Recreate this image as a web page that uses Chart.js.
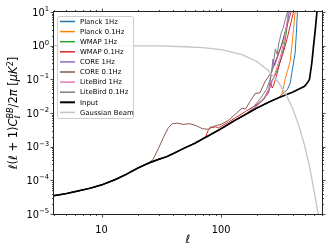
<!DOCTYPE html>
<html>
<head>
<meta charset="utf-8">
<script src="https://cdn.jsdelivr.net/npm/chart.js@4"></script>
<style>
  body { margin: 0; background: #fff; }
  #wrap { width: 333px; height: 250px; position: relative; }
</style>
</head>
<body>
<div id="wrap"><canvas id="chart"></canvas></div>
<script>
// ===== DATA =====
const labels = ["Planck 1Hz", "Planck 0.1Hz", "WMAP 1Hz", "WMAP 0.1Hz", "CORE 1Hz",
  "CORE 0.1Hz", "LiteBird 1Hz", "LiteBird 0.1Hz", "Input", "Gaussian Beam"];
const colors = ["#1f77b4", "#ff7f0e", "#2ca02c", "#d62728", "#9467bd",
  "#8c564b", "#e377c2", "#7f7f7f", "#000000", "#c4c4c4"];

// input spectrum
const ellInput = [4, 5, 6, 8, 10, 13, 16, 20, 25, 30, 35, 40, 50, 60, 70, 80, 100, 130, 160, 200,
  250, 300, 400, 500, 530, 550, 575, 595, 615, 635, 660];
const input = [3.5e-5, 4.0e-5, 4.6e-5, 5.8e-5, 7.3e-5, 1.05e-4, 1.5e-4, 2.3e-4, 3.3e-4, 4.2e-4, 5.0e-4,
  6.3e-4, 9.3e-4, 1.25e-3, 1.7e-3, 2.2e-3, 3.4e-3, 6.0e-3, 9.0e-3, 1.4e-2,
  2.1e-2, 2.8e-2, 4.2e-2, 6.2e-2, 8.0e-2, 0.1, 0.3, 1.0, 3, 10, 40];

// recovered spectra: they sit on the input at low ell, then break away
const planck1Ell = [330, 360, 380, 400, 417, 426, 436, 460];
const planck1 = [0.038, 0.05, 0.08, 0.25, 0.6, 2, 10, 40];
const planck01Ell = [323, 344, 360, 379, 392, 404, 417, 440];
const planck01 = [0.036, 0.1, 0.18, 0.34, 1.0, 3, 10, 40];
const wmap1Ell = [180, 200, 230, 250, 265, 280, 300, 320, 340, 355, 367, 385];
const wmap1 = [1.2e-2, 1.7e-2, 2.6e-2, 4.5e-2, 0.09, 0.12, 0.22, 0.45, 1.1, 3, 10, 40];
const wmap01Ell = [74, 78, 82, 86, 90, 95, 100, 115, 130, 160, 200, 230, 250, 262, 268, 275, 290,
  310, 335, 360, 380, 404, 420];
const wmap01 = [1.9e-3, 3.0e-3, 3.9e-3, 3.7e-3, 3.9e-3, 3.6e-3, 4.0e-3, 5.3e-3, 7e-3, 1.1e-2, 1.8e-2,
  2.8e-2, 4e-2, 8e-2, 5.5e-2, 6.5e-2, 0.12, 0.3, 0.7, 1.8, 4, 10, 30];
const core1Ell = [200, 230, 250, 262, 272, 280, 290, 305, 320, 340, 360, 372, 390];
const core1 = [1.6e-2, 2.8e-2, 5e-2, 0.12, 0.4, 0.25, 0.35, 0.6, 1.0, 2.2, 5, 10, 30];
const core01Ell = [27, 30, 33, 36, 39, 43, 48, 55, 62, 70, 78, 90, 100, 115, 135, 150, 160, 175,
  193, 212, 233, 266, 290, 320, 350, 385, 410];
const core01 = [4.2e-4, 9e-4, 1.9e-3, 3.5e-3, 4.8e-3, 5e-3, 4.6e-3, 4.8e-3, 4.2e-3, 3.4e-3, 3.3e-3,
  4.2e-3, 4.6e-3, 6e-3, 1.0e-2, 1.4e-2, 1.3e-2, 2.2e-2, 3.8e-2, 4e-2, 8.5e-2, 0.17, 0.4, 1.0, 3, 10, 30];
const lite1Ell = [200, 240, 270, 290, 310, 330, 350, 365, 380];
const lite1 = [1.6e-2, 3.5e-2, 0.09, 0.2, 0.4, 1.0, 3, 10, 30];
const lite01Ell = [180, 210, 240, 255, 265, 275, 285, 295, 305, 320, 330, 345, 360, 375];
const lite01 = [1.3e-2, 2.5e-2, 5e-2, 0.09, 0.16, 0.3, 0.8, 0.55, 1.2, 2.5, 3.2, 6, 10, 30];

// gaussian beam
const beamEll = [4, 10, 20, 30, 50, 70, 100, 150, 200, 250, 300, 350, 400, 450, 500, 550, 600, 650, 700];
const beam = [1.0, 1.0, 0.99, 0.98, 0.93, 0.87, 0.76, 0.54, 0.34, 0.18, 0.085, 0.035, 0.013,
  0.004, 1.1e-3, 2.6e-4, 5e-5, 1e-5, 1.6e-6];

// axis ticks
const xMajor = [10, 100];
const xMinor = [4, 5, 6, 7, 8, 9, 20, 30, 40, 50, 60, 70, 80, 90, 200, 300, 400, 500, 600, 700];
const yMajor = [1e-5, 1e-4, 1e-3, 1e-2, 1e-1, 1, 10];

// ===== HELPERS =====
const FONT = '"DejaVu Sans", sans-serif';
const TICK_SIZE = 9.8;
const TITLE_SIZE = 11.5;

function pts(ells, vals) {
  return ells.map((l, i) => ({ x: l, y: vals[i] }));
}
// input up to where the series leaves it, then the series' own points
function withBase(ells, vals) {
  const start = ells[0];
  const base = ellInput.map((l, i) => ({ x: l, y: input[i] })).filter(p => p.x < start);
  return base.concat(pts(ells, vals));
}

const seriesData = [
  withBase(planck1Ell, planck1),
  withBase(planck01Ell, planck01),
  withBase(wmap1Ell, wmap1),
  withBase(wmap01Ell, wmap01),
  withBase(core1Ell, core1),
  withBase(core01Ell, core01),
  withBase(lite1Ell, lite1),
  withBase(lite01Ell, lite01),
  pts(ellInput, input),
  pts(beamEll, beam)
];

const datasets = seriesData.map((d, i) => ({
  label: labels[i],
  data: d,
  borderColor: colors[i],
  borderWidth: i === 8 ? 1.7 : (i === 9 ? 1.3 : 1),
  pointRadius: 0,
  tension: 0,
  order: 10 - i
}));

// ===== PLUGINS =====
function seg(ctx, x1, y1, x2, y2) {
  ctx.beginPath(); ctx.moveTo(x1, y1); ctx.lineTo(x2, y2); ctx.stroke();
}

// "10" with a raised exponent, right-aligned at x
function drawPow(ctx, e, x, y) {
  ctx.font = TICK_SIZE + "px " + FONT;
  const wBase = ctx.measureText("10").width;
  const exp = e < 0 ? "\u2212" + (-e) : String(e);
  ctx.font = (TICK_SIZE * 0.7) + "px " + FONT;
  const wExp = ctx.measureText(exp).width;
  ctx.textAlign = "left";
  ctx.textBaseline = "alphabetic";
  ctx.font = TICK_SIZE + "px " + FONT;
  ctx.fillText("10", x - wExp - wBase, y + 3.5);
  ctx.font = (TICK_SIZE * 0.7) + "px " + FONT;
  ctx.fillText(exp, x - wExp, y - 1);
}

const legendBox = {
  id: "legendBox",
  afterDatasetsDraw(chart) {
    const ctx = chart.ctx;
    ctx.save();
    const x0 = 57, y0 = 16, w = 76, h = 102;
    ctx.fillStyle = "rgba(255,255,255,0.85)";
    ctx.strokeStyle = "#cccccc";
    ctx.lineWidth = 1;
    ctx.beginPath();
    ctx.roundRect(x0 + 0.5, y0 + 0.5, w, h, 2);
    ctx.fill(); ctx.stroke();
    ctx.font = "6.9px " + FONT;
    ctx.textBaseline = "middle";
    ctx.fillStyle = "#000";
    labels.forEach((lab, i) => {
      const y = 21.5 + i * 10.1;
      ctx.strokeStyle = colors[i];
      ctx.lineWidth = i === 8 ? 2 : 1.5;
      seg(ctx, 60, y, 75, y);
      ctx.fillText(lab, 80, y + 0.5);
    });
    ctx.restore();
  }
};

const frameAndTitles = {
  id: "frameAndTitles",
  afterDraw(chart) {
    const ctx = chart.ctx;
    const { left, right, top, bottom } = chart.chartArea;
    const xs = chart.scales.x, ys = chart.scales.y;
    ctx.save();
    ctx.strokeStyle = "#222";
    ctx.lineWidth = 1;
    ctx.strokeRect(left - 0.5, top - 0.5, right - left + 1, bottom - top + 1);

    // ticks on all four sides, pointing out
    ctx.lineWidth = 0.8;
    const xt = (v, len) => {
      const px = Math.round(xs.getPixelForValue(v)) + 0.5;
      seg(ctx, px, bottom, px, bottom + len);
      seg(ctx, px, top, px, top - len);
    };
    const yt = (v, len) => {
      const py = Math.round(ys.getPixelForValue(v)) + 0.5;
      seg(ctx, left, py, left - len, py);
      seg(ctx, right, py, right + len, py);
    };
    xMajor.forEach(v => xt(v, 3.5));
    xMinor.forEach(v => { if (v <= xs.max) xt(v, 2); });
    yMajor.forEach(v => yt(v, 3.5));
    for (let e = -5; e < 1; e++) {
      for (let k = 2; k < 10; k++) yt(k * Math.pow(10, e), 2);
    }

    // y tick labels
    ctx.fillStyle = "#000";
    yMajor.forEach(v => drawPow(ctx, Math.round(Math.log10(v)), left - 5, ys.getPixelForValue(v)));

    // x title
    ctx.font = "italic " + TITLE_SIZE + "px " + FONT;
    ctx.textAlign = "center";
    ctx.textBaseline = "alphabetic";
    ctx.fillText("\u2113", (left + right) / 2, 243);

    // y title, rotated, with sub/superscripts
    const F = TITLE_SIZE;
    const parts = [
      { t: "\u2113", it: true }, { t: "(" }, { t: "\u2113", it: true }, { t: " + 1)" },
      { t: "C", it: true },
      { t: "\u2113", it: true, s: 0.7, dy: 2.5, hold: true },
      { t: "BB", it: true, s: 0.7, dy: -4.5 },
      { t: "/2" }, { t: "\u03c0", it: true }, { t: " [" }, { t: "\u03bcK", it: true },
      { t: "2", s: 0.7, dy: -4.5 }, { t: "]" }
    ];
    let x = 0;
    const items = parts.map(p => {
      const font = (p.it ? "italic " : "") + (F * (p.s || 1)) + "px " + FONT;
      ctx.font = font;
      const w = ctx.measureText(p.t).width;
      const it = { t: p.t, font, x, dy: p.dy || 0 };
      if (!p.hold) x += w;
      return it;
    });
    ctx.translate(13, (top + bottom) / 2);
    ctx.rotate(-Math.PI / 2);
    ctx.textAlign = "left";
    items.forEach(it => {
      ctx.font = it.font;
      ctx.fillText(it.t, it.x - x / 2, 4 + it.dy);
    });
    ctx.restore();
  }
};

// ===== CHART =====
new Chart(document.getElementById("chart"), {
  type: "line",
  data: { datasets },
  options: {
    responsive: true,
    maintainAspectRatio: false,
    animation: false,
    layout: { padding: { left: 0, right: 11, top: 12, bottom: 0 } },
    plugins: { legend: { display: false }, tooltip: { enabled: false } },
    scales: {
      x: {
        type: "logarithmic",
        min: 4,
        max: 700,
        grid: { display: false },
        border: { display: false },
        afterFit: s => { s.height = 36; },
        ticks: {
          autoSkip: false,
          maxRotation: 0,
          padding: 3,
          color: "#000",
          font: { family: FONT, size: TICK_SIZE },
          callback: v => (xMajor.includes(v) ? String(v) : "")
        }
      },
      y: {
        type: "logarithmic",
        min: 1e-5,
        max: 10,
        grid: { display: false },
        border: { display: false },
        afterFit: s => { s.width = 54; },
        // labels are drawn by the plugin so the exponent can be raised
        ticks: { display: false }
      }
    }
  },
  plugins: [legendBox, frameAndTitles]
});
</script>
</body>
</html>
